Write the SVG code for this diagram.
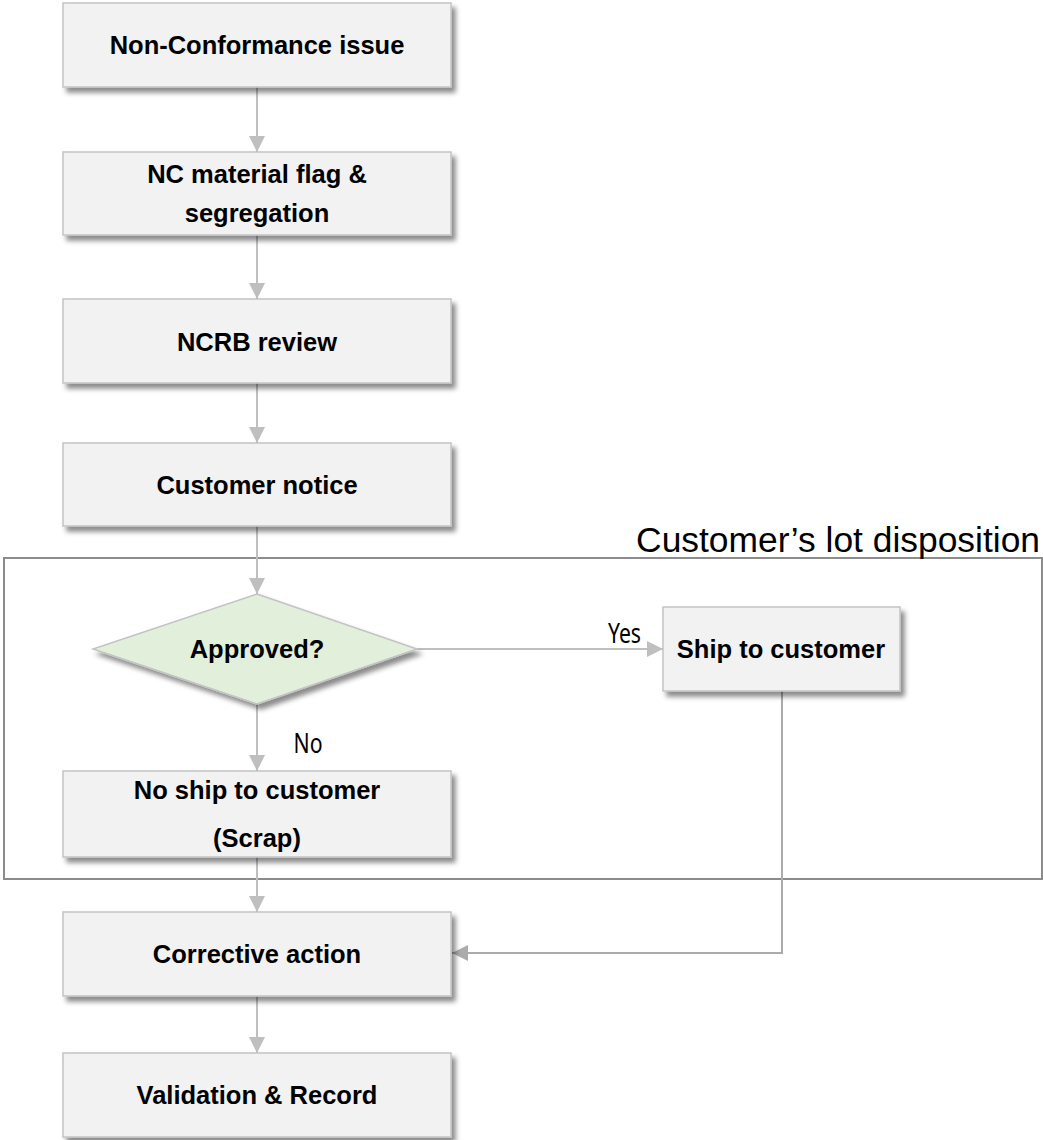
<svg xmlns="http://www.w3.org/2000/svg" width="1043" height="1140" viewBox="0 0 1043 1140">
<defs>
<filter id="sh" x="-10%" y="-10%" width="125%" height="135%">
<feDropShadow dx="4" dy="5" stdDeviation="2.4" flood-color="#000" flood-opacity="0.45"/>
</filter>
<marker id="ah" viewBox="0 0 16 16" refX="16" refY="8" markerWidth="16" markerHeight="16" markerUnits="userSpaceOnUse" orient="auto">
<path d="M0,0 L16,8 L0,16 Z" fill="#bfbfbf"/>
</marker>
<marker id="ah2" viewBox="0 0 16 16" refX="16" refY="8" markerWidth="16" markerHeight="16" markerUnits="userSpaceOnUse" orient="auto">
<path d="M0,0 L16,8 L0,16 Z" fill="#ababab"/>
</marker>
</defs>
<style>
.box{fill:#f2f2f2;stroke:#c3c3c3;stroke-width:1.5;filter:url(#sh)}
.dia{fill:#e2efda;stroke:#c3c3c3;stroke-width:1.5;filter:url(#sh)}
.t{font-family:"Liberation Sans",Arial,sans-serif;font-weight:bold;font-size:25.5px;fill:#000;text-anchor:middle}
.lbl{font-family:"Noto Sans","Open Sans",sans-serif;font-size:27px;fill:#000;text-anchor:middle}
.c{fill:none;stroke:#bfbfbf;stroke-width:2;marker-end:url(#ah)}
.c2{fill:none;stroke:#ababab;stroke-width:2;marker-end:url(#ah2)}
</style>
<rect width="1043" height="1140" fill="#fff"/>
<g id="frame">
<rect x="4" y="558" width="1038" height="321" fill="none" stroke="#8c8c8c" stroke-width="2"/>
<text x="1040" y="552" font-family="Liberation Sans,Arial,sans-serif" font-size="35.4" text-anchor="end" fill="#000">Customer’s lot disposition</text>
</g>
<g id="connectors">
<line class="c" x1="257" y1="87" x2="257" y2="152"/>
<line class="c" x1="257" y1="235" x2="257" y2="299"/>
<line class="c" x1="257" y1="383" x2="257" y2="443"/>
<line class="c" x1="257" y1="526" x2="257" y2="594"/>
<line class="c" x1="417" y1="649" x2="663" y2="649"/>
<line class="c" x1="257" y1="704" x2="257" y2="771"/>
<line class="c" x1="257" y1="857" x2="257" y2="912"/>
<polyline class="c2" points="782,691 782,953 452,953"/>
<line class="c" x1="257" y1="996" x2="257" y2="1053"/>
<text class="lbl" x="624.5" y="643" textLength="33" lengthAdjust="spacingAndGlyphs">Yes</text>
<text class="lbl" x="308" y="753" textLength="29" lengthAdjust="spacingAndGlyphs">No</text>
</g>
<g id="n1">
<rect class="box" x="63" y="3" width="388" height="84"/>
<text class="t" x="257" y="54">Non-Conformance issue</text>
</g>
<g id="n2">
<rect class="box" x="63" y="152" width="388" height="83"/>
<text class="t" x="257" y="183">NC material flag &amp;</text>
<text class="t" x="257" y="221.5">segregation</text>
</g>
<g id="n3">
<rect class="box" x="63" y="299" width="388" height="84"/>
<text class="t" x="257" y="351">NCRB review</text>
</g>
<g id="n4">
<rect class="box" x="63" y="443" width="388" height="83"/>
<text class="t" x="257" y="494">Customer notice</text>
</g>
<g id="n5">
<polygon class="dia" points="257,594 417,649 257,704 93,649"/>
<text class="t" x="257" y="658">Approved?</text>
</g>
<g id="n6">
<rect class="box" x="663" y="607" width="237" height="84"/>
<text class="t" x="781" y="658">Ship to customer</text>
</g>
<g id="n7">
<rect class="box" x="63" y="771" width="388" height="86"/>
<text class="t" x="257" y="799">No ship to customer</text>
<text class="t" x="257" y="847">(Scrap)</text>
</g>
<g id="n8">
<rect class="box" x="63" y="912" width="388" height="84"/>
<text class="t" x="257" y="963">Corrective action</text>
</g>
<g id="n9">
<rect class="box" x="63" y="1053" width="388" height="84"/>
<text class="t" x="257" y="1104">Validation &amp; Record</text>
</g>
</svg>
